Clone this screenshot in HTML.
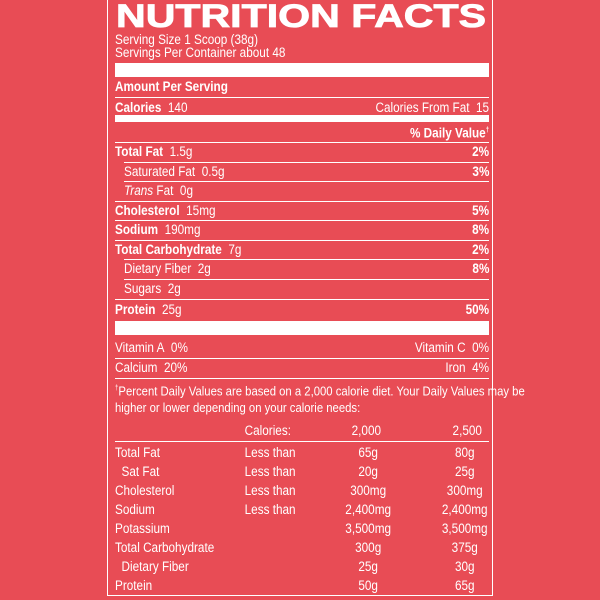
<!DOCTYPE html>
<html><head><meta charset="utf-8"><style>
body{margin:0;width:600px;height:600px;background:#e84c55;overflow:hidden;font-family:"Liberation Sans Narrow","Liberation Sans",sans-serif;color:#fff}
#box{position:absolute;left:107px;top:-2px;width:386px;height:598px;border:1.5px solid #fff;border-top:none;box-sizing:border-box}
.r{position:absolute;left:115px;width:430px;height:16px;line-height:16px;font-size:13.5px;white-space:nowrap;transform:scaleX(0.87);transform-origin:0 0}
.r .rt{position:absolute;right:0;top:0}
.b{font-weight:bold}
.ind{left:124px;width:420px}
.ln{position:absolute;left:115px;width:374px;height:1px;background:#fff}
.lni{left:124px;width:365px}
.bar{position:absolute;left:115px;width:374px;background:#fff}
.c{position:absolute;top:0}
</style></head><body>
<div id="box"></div>
<svg style="position:absolute;left:0;top:0" width="600" height="40"><text x="116" y="27" textLength="370" lengthAdjust="spacingAndGlyphs" font-family="Liberation Sans" font-weight="bold" font-size="32" fill="#fff" stroke="#fff" stroke-width="0.8">NUTRITION FACTS</text></svg>
<div class="r" style="top:32px">Serving Size 1 Scoop (38g)</div>
<div class="r" style="top:45px">Servings Per Container about 48</div>
<div class="bar" style="top:63px;height:14px"></div>
<div class="r b" style="top:79px">Amount Per Serving</div>
<div class="ln" style="top:97px"></div>
<div class="r" style="top:100px"><span class="b">Calories</span>&nbsp; 140<span class="rt">Calories From Fat&nbsp; 15</span></div>
<div class="bar" style="top:115px;height:7px"></div>
<div class="r b" style="top:123px"><span class="rt">% Daily Value<sup style="font-size:7px">†</sup></span></div>
<div class="ln" style="top:142px"></div>
<div class="r" style="top:144px"><span class="b">Total Fat</span>&nbsp; 1.5g<span class="rt b">2%</span></div>
<div class="ln lni" style="top:162px"></div>
<div class="r ind" style="top:164px">Saturated Fat&nbsp; 0.5g<span class="rt b">3%</span></div>
<div class="ln lni" style="top:181px"></div>
<div class="r ind" style="top:183px"><i>Trans</i> Fat&nbsp; 0g</div>
<div class="ln" style="top:201px"></div>
<div class="r" style="top:203px"><span class="b">Cholesterol</span>&nbsp; 15mg<span class="rt b">5%</span></div>
<div class="ln" style="top:220px"></div>
<div class="r" style="top:222px"><span class="b">Sodium</span>&nbsp; 190mg<span class="rt b">8%</span></div>
<div class="ln" style="top:240px"></div>
<div class="r" style="top:242px"><span class="b">Total Carbohydrate</span>&nbsp; 7g<span class="rt b">2%</span></div>
<div class="ln lni" style="top:259px"></div>
<div class="r ind" style="top:261px">Dietary Fiber&nbsp; 2g<span class="rt b">8%</span></div>
<div class="ln lni" style="top:279px"></div>
<div class="r ind" style="top:281px">Sugars&nbsp; 2g</div>
<div class="ln" style="top:299px"></div>
<div class="r" style="top:302px"><span class="b">Protein</span>&nbsp; 25g<span class="rt b">50%</span></div>
<div class="bar" style="top:321px;height:14px"></div>
<div class="r" style="top:340px">Vitamin A&nbsp; 0%<span class="rt">Vitamin C&nbsp; 0%</span></div>
<div class="ln" style="top:358px"></div>
<div class="r" style="top:360px">Calcium&nbsp; 20%<span class="rt">Iron&nbsp; 4%</span></div>
<div class="ln" style="top:378px"></div>
<div class="r" style="top:381px;font-size:13px"><sup style="font-size:7px">†</sup>Percent Daily Values are based on a 2,000 calorie diet. Your Daily Values may be</div>
<div class="r" style="top:400px;font-size:13px">higher or lower depending on your calorie needs:</div>
<div class="r" style="top:423px"><span class="c" style="left:149px">Calories:</span><span class="c" style="left:272px">2,000</span><span class="c" style="left:388px">2,500</span></div>
<div class="ln" style="top:441px"></div>
<div id="tbl"></div>
<script>
const rows=[["Total Fat","Less than","65g","80g"],["Sat Fat","Less than","20g","25g"],["Cholesterol","Less than","300mg","300mg"],["Sodium","Less than","2,400mg","2,400mg"],["Potassium","","3,500mg","3,500mg"],["Total Carbohydrate","","300g","375g"],["Dietary Fiber","","25g","30g"],["Protein","","50g","65g"]];
const t=document.getElementById('tbl');
rows.forEach((r,i)=>{
 const d=document.createElement('div');
 d.className='r';
 d.style.top=(445+i*19)+'px';
 
 
 const ind=(r[0]==='Sat Fat'||r[0]==='Dietary Fiber')?'&nbsp;&nbsp;':'';
 d.innerHTML=ind+r[0]+'<span class="c" style="left:149px">'+r[1]+'</span><span class="c" style="left:291px;width:0"><span style="position:absolute;transform:translateX(-50%)">'+r[2]+'</span></span><span class="c" style="left:402px;width:0"><span style="position:absolute;transform:translateX(-50%)">'+r[3]+'</span></span>';
 t.appendChild(d);
});
</script>
</body></html>
